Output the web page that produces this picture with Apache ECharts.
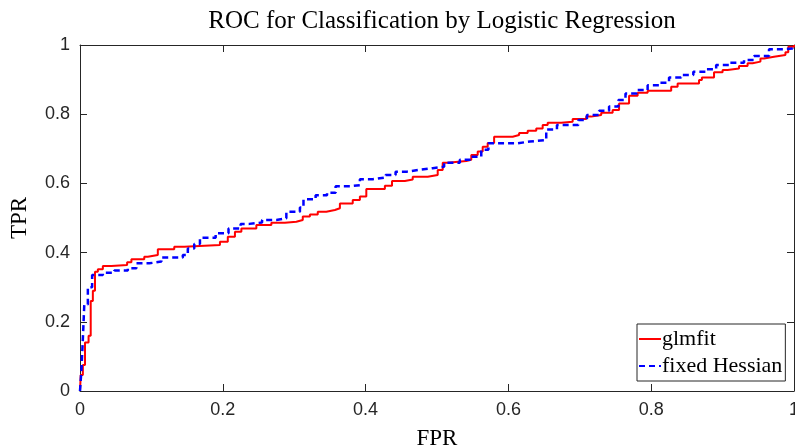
<!DOCTYPE html>
<html>
<head>
<meta charset="utf-8">
<script src="https://cdn.jsdelivr.net/npm/echarts@6/dist/echarts.min.js"></script>
<style>
  html, body { margin: 0; padding: 0; background: #fff; }
  #rocChart { width: 795px; height: 447px; }
</style>
</head>
<body>
<div id="rocChart"></div>
<script>
// axis ticks
var tickValues = [0, 0.2, 0.4, 0.6, 0.8, 1];

// glmfit ROC (step points: fpr where tpr jumps)
var fprGlm = [0, 0.001, 0.004, 0.007, 0.012, 0.015, 0.018, 0.021, 0.025, 0.032, 0.044, 0.066,
  0.072, 0.090, 0.095, 0.109, 0.132, 0.146, 0.196, 0.207, 0.217, 0.226, 0.247, 0.268, 0.287,
  0.303, 0.312, 0.322, 0.333, 0.345, 0.357, 0.364, 0.382, 0.392, 0.401, 0.427, 0.437, 0.455,
  0.466, 0.487, 0.501, 0.508, 0.515, 0.541, 0.548, 0.557, 0.564, 0.571, 0.580, 0.606, 0.615,
  0.627, 0.639, 0.648, 0.655, 0.674, 0.690, 0.709, 0.716, 0.730, 0.746, 0.755, 0.769, 0.781,
  0.795, 0.828, 0.837, 0.867, 0.871, 0.888, 0.900, 0.907, 0.923, 0.935, 0.942, 0.953, 0.958,
  0.972, 0.988, 0.992, 1];
var tprGlm = [0, 0.046, 0.075, 0.14, 0.16, 0.26, 0.29, 0.345, 0.352, 0.361, 0.364, 0.372,
  0.381, 0.388, 0.393, 0.41, 0.417, 0.422, 0.431, 0.446, 0.46, 0.47, 0.48, 0.486, 0.489,
  0.494, 0.504, 0.51, 0.518, 0.523, 0.528, 0.542, 0.552, 0.562, 0.584, 0.593, 0.607, 0.611,
  0.619, 0.624, 0.639, 0.66, 0.665, 0.668, 0.682, 0.692, 0.706, 0.717, 0.735, 0.74, 0.746,
  0.752, 0.759, 0.769, 0.775, 0.778, 0.786, 0.793, 0.798, 0.804, 0.812, 0.831, 0.853, 0.862,
  0.868, 0.879, 0.889, 0.899, 0.906, 0.921, 0.928, 0.932, 0.939, 0.947, 0.952, 0.961, 0.966,
  0.971, 0.979, 0.995, 1];

// fixed Hessian ROC
var fprHess = [0, 0.002, 0.004, 0.006, 0.011, 0.017, 0.032, 0.048, 0.067, 0.079, 0.097, 0.114,
  0.144, 0.151, 0.160, 0.168, 0.190, 0.208, 0.225, 0.237, 0.255, 0.275, 0.289, 0.308, 0.313,
  0.330, 0.346, 0.358, 0.378, 0.392, 0.410, 0.428, 0.442, 0.458, 0.474, 0.494, 0.510, 0.532,
  0.548, 0.562, 0.572, 0.613, 0.630, 0.653, 0.668, 0.698, 0.710, 0.727, 0.741, 0.754, 0.764,
  0.780, 0.795, 0.811, 0.825, 0.842, 0.859, 0.877, 0.891, 0.909, 0.930, 0.944, 0.965, 0.985,
  0.998];
var tprHess = [0, 0.06, 0.15, 0.25, 0.30, 0.335, 0.342, 0.348, 0.355, 0.369, 0.374, 0.386,
  0.393, 0.412, 0.425, 0.443, 0.456, 0.47, 0.483, 0.487, 0.494, 0.499, 0.518, 0.53, 0.554,
  0.566, 0.573, 0.592, 0.595, 0.612, 0.617, 0.624, 0.634, 0.639, 0.644, 0.648, 0.66, 0.668,
  0.677, 0.697, 0.716, 0.721, 0.725, 0.756, 0.769, 0.783, 0.798, 0.81, 0.822, 0.841, 0.86,
  0.87, 0.884, 0.891, 0.906, 0.913, 0.923, 0.93, 0.942, 0.949, 0.957, 0.968, 0.988, 0.99,
  1];

function pairs(xs, ys) {
  return xs.map(function (x, i) { return [x, ys[i]]; });
}

var axisColor = '#262626';
var serif = '"Liberation Serif", "DejaVu Serif", serif';
var sans = '"Liberation Sans", Arial, sans-serif';

function makeAxis(pos, showLabels, extra) {
  var ax = {
    type: 'value',
    position: pos,
    min: 0,
    max: 1,
    interval: 0.2,
    axisLine: { show: true, onZero: false, lineStyle: { color: axisColor, width: 1 } },
    axisTick: { show: true, inside: true, length: 7, lineStyle: { color: axisColor } },
    splitLine: { show: false },
    axisLabel: {
      show: showLabels,
      color: axisColor,
      fontFamily: sans,
      fontSize: 18,
      margin: 10,
      formatter: function (v) {
        var t = tickValues.filter(function (k) { return Math.abs(k - v) < 1e-9; })[0];
        return t === undefined ? '' : String(t);
      }
    }
  };
  return Object.assign(ax, extra || {});
}

var chart = echarts.init(document.getElementById('rocChart'));
chart.setOption({
  animation: false,
  backgroundColor: '#fff',
  title: {
    text: 'ROC for Classification by Logistic Regression',
    left: 437,
    textAlign: 'center',
    top: 4,
    textStyle: { fontFamily: serif, fontWeight: 'normal', fontSize: 25, color: '#000' }
  },
  grid: { left: 80, right: 1, top: 45, bottom: 56, outerBoundsMode: 'none' },
  legend: {
    orient: 'vertical',
    left: 637,
    top: 324,
    backgroundColor: '#fff',
    borderColor: axisColor,
    borderWidth: 1,
    borderRadius: 0,
    padding: [4, 3, 4, 1],
    itemGap: 5,
    itemWidth: 22,
    itemHeight: 12,
    itemStyle: { opacity: 0 },
    textStyle: { fontFamily: serif, fontSize: 22, color: '#000', padding: [0, 0, 0, -4] },
    data: ['glmfit', 'fixed Hessian']
  },
  xAxis: [
    makeAxis('bottom', true, {
      name: 'FPR', nameLocation: 'middle', nameGap: 36,
      nameTextStyle: { fontFamily: serif, fontSize: 23, color: '#000' }
    }),
    makeAxis('top', false)
  ],
  yAxis: [
    makeAxis('left', true, {
      name: 'TPR', nameLocation: 'middle', nameGap: 49,
      nameTextStyle: { fontFamily: serif, fontSize: 23, color: '#000' }
    }),
    makeAxis('right', false)
  ],
  series: [
    {
      name: 'glmfit',
      type: 'line',
      step: 'end',
      symbol: 'none',
      data: pairs(fprGlm, tprGlm),
      color: '#ff0000',
      lineStyle: { color: '#ff0000', width: 2 }
    },
    {
      name: 'fixed Hessian',
      type: 'line',
      step: 'end',
      symbol: 'none',
      data: pairs(fprHess, tprHess),
      color: '#0000ff',
      lineStyle: { color: '#0000ff', width: 2.5, type: [6, 4] }
    }
  ]
});
</script>
</body>
</html>
